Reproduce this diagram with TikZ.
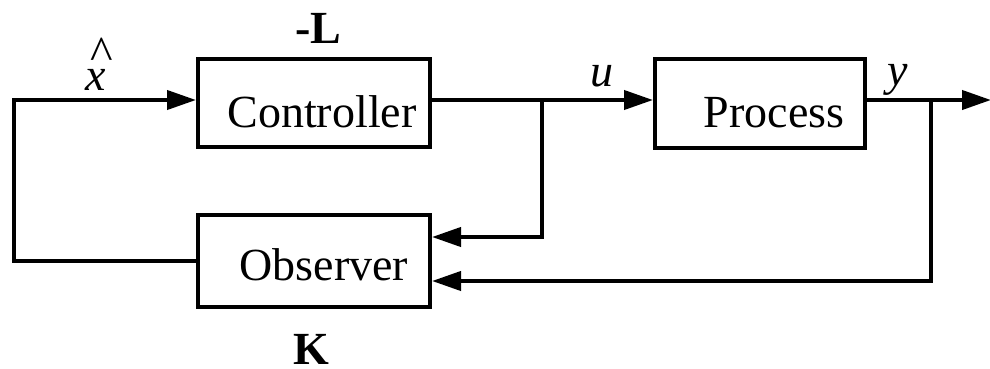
\documentclass[tikz,border=0pt]{standalone}
\usepackage{fontspec}
\setmainfont{Liberation Serif}
\usetikzlibrary{arrows.meta,calc}

\tikzset{
  block/.style={draw, line width=4pt, inner sep=0pt},
  wire/.style={line width=4pt, line join=miter},
  flow/.style={wire, -{Triangle[length=29pt,width=19pt]}},
  boxtext/.style={anchor=base, inner sep=0pt, font=\fontsize{46}{50}\selectfont},
  sig/.style={anchor=base, inner sep=0pt, font=\fontsize{46}{50}\selectfont\itshape},
  gain/.style={anchor=base, inner sep=0pt, font=\fontsize{46}{50}\selectfont\bfseries},
}

\begin{document}
\begin{tikzpicture}[x=1pt, y=-1pt]
  \useasboundingbox (0,0) rectangle (990,368);

  % blocks
  \node[block, minimum width=232pt, minimum height=88pt] (ctrl) at (314,103) {};
  \node[block, minimum width=210pt, minimum height=89pt] (proc) at (760,103.5) {};
  \node[block, minimum width=232pt, minimum height=92pt] (obs)  at (314,261) {};

  \node[boxtext] (ctrltxt) at (322,127) {Controller};
  \node[boxtext] (proctxt) at (774,127) {Process};
  \node[boxtext] (obstxt)  at (324,280) {Observer};

  % gains
  \node[gain] (gL) at (318,43) {-L};
  \node[gain] (gK) at (311,364) {K};

  % signal names (the estimate's hat is set as a separate caret above the x)
  \node[sig] (sx) at (96,90) {x};
  \node[anchor=base, inner sep=0pt, font=\fontsize{48}{50}\selectfont] (sxhat) at (102,69) {\textasciicircum};
  \node[sig] (su) at (602,86) {u};
  \node[sig] (sy) at (898,85) {y};

  % reference heights of the wires
  \coordinate (main) at (0,100);
  \coordinate (uin)  at (0,237);
  \coordinate (yin)  at (0,281);
  \coordinate (bu)   at (542,100);
  \coordinate (by)   at (931,100);
  \coordinate (out)  at (991,100);
  \coordinate (back) at (14,261);

  % forward path
  \draw[flow] (ctrl.east |- main) -- (proc.west |- main);
  \draw[flow] (proc.east |- main) -- (out);

  % measurements to the observer
  \draw[flow] (bu) |- (obs.east |- uin);
  \draw[flow] (by) |- (obs.east |- yin);

  % state estimate back to the controller
  \draw[flow] (obs.west) -- (back) |- (ctrl.west |- main);
\end{tikzpicture}
\end{document}
